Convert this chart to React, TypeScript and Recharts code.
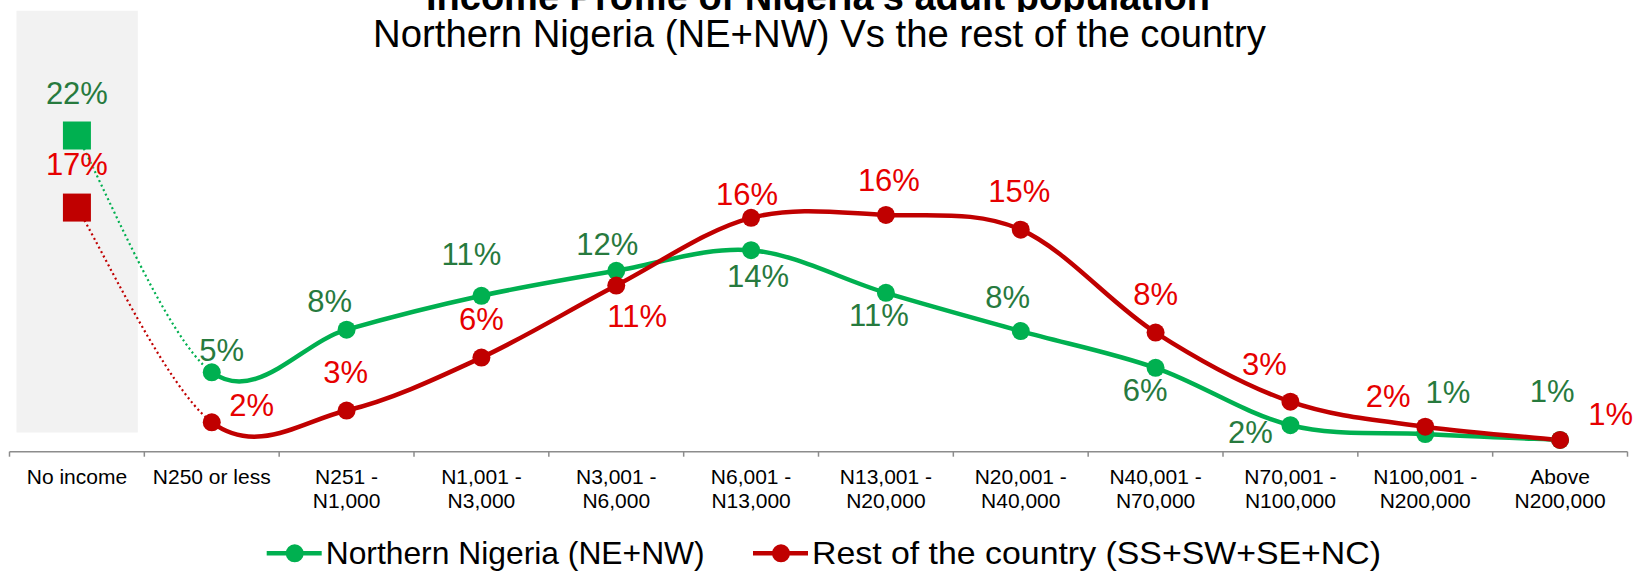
import React from 'react';
import { ComposedChart, Bar, Line, XAxis, YAxis, LabelList } from 'recharts';

// income bands (line break = second line of the tick label)
const categories = [
  'No income',
  'N250 or less',
  'N251 -\nN1,000',
  'N1,001 -\nN3,000',
  'N3,001 -\nN6,000',
  'N6,001 -\nN13,000',
  'N13,001 -\nN20,000',
  'N20,001 -\nN40,000',
  'N40,001 -\nN70,000',
  'N70,001 -\nN100,000',
  'N100,001 -\nN200,000',
  'Above\nN200,000',
];

// % of adults per band
const northern = [21.5, 5.4, 8.3, 10.6, 12.3, 13.7, 10.8, 8.2, 5.7, 1.8, 1.2, 0.8];
const restOfCountry = [16.6, 2.0, 2.8, 6.4, 11.3, 15.9, 16.1, 15.1, 8.1, 3.4, 1.7, 0.8];

// grey backdrop behind the "No income" column
const shadedCategories = ['No income'];
const shadeRange: [number, number] = [1.3, 30];

const data = categories.map((cat, i) => ({
  cat,
  north: northern[i],
  rest: restOfCountry[i],
  shade: shadedCategories.includes(cat) ? shadeRange : null,
}));

const GREEN = '#00B050';
const RED = '#C00000';
const GREEN_TEXT = '#277A3E';
const RED_TEXT = '#E60000';
const AXIS = '#8c8c8c';
const FONT = '"Liberation Sans", Arial, Helvetica, sans-serif';

const W = 1635;
const H = 571;
const margin = { top: 10.5, right: 7.5, bottom: 0, left: 9.5 };
const plotWidth = W - margin.left - margin.right;
const halfBand = plotWidth / categories.length / 2;

// label offsets from each point: [dx to text centre, dy to baseline]
const northLabelOffsets = [
  [0, -31.7], [10, -11], [-17, -17.7], [-10, -30.7], [-9, -16], [7, 36.7],
  [-7, 33.3], [-13, -22.7], [-10.5, 33.4], [-40, 17.3], [22.6, -30.7], [-8, -38.3],
];
const restLabelOffsets = [
  [0, -32.3], [40, -6], [-1, -27.3], [0, -27.7], [21, 41], [-4, -13.3],
  [3, -24], [-1.5, -27.3], [0, -27.3], [-26, -26.7], [-37, -19.4], [50.7, -15],
];

// Excel-ish smoothed line (catmull-rom style beziers).
// 'lead' draws only the first segment, 'rest' draws everything after it,
// both using the neighbours of the full series for the tangents.
const makeCurve = (part: 'lead' | 'rest') => (context: any) => {
  let pts: number[][] = [];
  return {
    areaStart() {},
    areaEnd() {},
    lineStart() {
      pts = [];
    },
    point(x: number, y: number) {
      pts.push([+x, +y]);
    },
    lineEnd() {
      const n = pts.length;
      const from = part === 'lead' ? 0 : 1;
      const to = part === 'lead' ? Math.min(1, n - 1) : n - 1;
      if (n < from + 2) return;
      context.moveTo(pts[from][0], pts[from][1]);
      for (let i = from; i < to; i++) {
        const p0 = pts[Math.max(i - 1, 0)];
        const p1 = pts[i];
        const p2 = pts[i + 1];
        const p3 = pts[Math.min(i + 2, n - 1)];
        context.bezierCurveTo(
          p1[0] + (p2[0] - p0[0]) / 6,
          p1[1] + (p2[1] - p0[1]) / 6,
          p2[0] - (p3[0] - p1[0]) / 6,
          p2[1] - (p3[1] - p1[1]) / 6,
          p2[0],
          p2[1]
        );
      }
    },
  };
};

const leadCurve = makeCurve('lead');
const restCurve = makeCurve('rest');

const renderDot = (color: string, id: string) => (props: any) => {
  const { cx, cy, index } = props;
  if (cx == null || cy == null) return <g key={`${id}-${index}`} />;
  if (index === 0) {
    return <rect key={`${id}-${index}`} x={cx - 14} y={cy - 14} width={28} height={28} fill={color} />;
  }
  return <circle key={`${id}-${index}`} cx={cx} cy={cy} r={9} fill={color} />;
};

const renderLabel = (offsets: number[][], color: string) => (props: any) => {
  const x = props.x ?? props.viewBox?.x;
  const y = props.y ?? props.viewBox?.y;
  const { value, index } = props;
  if (x == null || y == null || value == null) return null;
  const [dx, dy] = offsets[index] || [0, -27];
  return (
    <text x={x + dx} y={y + dy} textAnchor="middle" fill={color} fontSize={31} fontFamily={FONT}>
      {Math.round(value)}%
    </text>
  );
};

const CategoryTick = (props: any) => {
  const { x, y, payload, index } = props;
  const lines = String(payload.value).split('\n');
  return (
    <g>
      <line x1={x - halfBand} x2={x - halfBand} y1={y} y2={y + 5} stroke={AXIS} strokeWidth={1.5} />
      {index === categories.length - 1 && (
        <line x1={x + halfBand} x2={x + halfBand} y1={y} y2={y + 5} stroke={AXIS} strokeWidth={1.5} />
      )}
      <text x={x} y={y + 31.8} textAnchor="middle" fontSize={21} fill="#000" fontFamily={FONT}>
        {lines.map((l, i) => (
          <tspan key={i} x={x} dy={i === 0 ? 0 : 24}>
            {l}
          </tspan>
        ))}
      </text>
    </g>
  );
};

const LegendItem = ({ x, color, text, width }: { x: number; color: string; text: string; width: number }) => (
  <g>
    <line x1={x} x2={x + 55} y1={553.3} y2={553.3} stroke={color} strokeWidth={4.5} />
    <circle cx={x + 28} cy={553.3} r={9} fill={color} />
    <text
      x={x + 59}
      y={564.3}
      fontSize={32}
      fontFamily={FONT}
      fill="#000"
      textLength={width}
      lengthAdjust="spacingAndGlyphs"
    >
      {text}
    </text>
  </g>
);

const App: React.FC = () => {
  return (
    <div style={{ position: 'absolute', left: 0, top: 0, width: W, height: H, background: '#fff' }}>
      <ComposedChart width={W} height={H} data={data} margin={margin}>
        <XAxis
          dataKey="cat"
          interval={0}
          height={119.3}
          tickSize={0}
          tickMargin={0}
          tickLine={false}
          axisLine={{ stroke: AXIS, strokeWidth: 1.5 }}
          tick={<CategoryTick />}
        />
        <YAxis hide domain={[0, 30]} allowDataOverflow />
        <Bar dataKey="shade" fill="#F2F2F2" barSize={137} isAnimationActive={false} legendType="none" />
        <Line
          dataKey="north"
          name="north-lead"
          type={leadCurve as any}
          stroke={GREEN}
          strokeWidth={2.2}
          strokeDasharray="2 3"
          dot={false}
          activeDot={false}
          legendType="none"
          isAnimationActive={false}
        />
        <Line
          dataKey="rest"
          name="rest-lead"
          type={leadCurve as any}
          stroke={RED}
          strokeWidth={2.2}
          strokeDasharray="2 3"
          dot={false}
          activeDot={false}
          legendType="none"
          isAnimationActive={false}
        />
        <Line
          dataKey="north"
          name="Northern Nigeria (NE+NW)"
          type={restCurve as any}
          stroke={GREEN}
          strokeWidth={4.5}
          dot={renderDot(GREEN, 'n')}
          activeDot={false}
          isAnimationActive={false}
        >
          <LabelList dataKey="north" content={renderLabel(northLabelOffsets, GREEN_TEXT)} />
        </Line>
        <Line
          dataKey="rest"
          name="Rest of the country (SS+SW+SE+NC)"
          type={restCurve as any}
          stroke={RED}
          strokeWidth={4.5}
          dot={renderDot(RED, 'r')}
          activeDot={false}
          isAnimationActive={false}
        >
          <LabelList dataKey="rest" content={renderLabel(restLabelOffsets, RED_TEXT)} />
        </Line>
      </ComposedChart>
      <svg
        width={W}
        height={H}
        style={{ position: 'absolute', left: 0, top: 0, pointerEvents: 'none' }}
      >
        <defs>
          <clipPath id="titleClip">
            <rect x={0} y={0} width={W} height={12} />
          </clipPath>
        </defs>
        <text
          x={818}
          y={10}
          textAnchor="middle"
          fontSize={38}
          fontWeight="bold"
          fontFamily={FONT}
          fill="#000"
          clipPath="url(#titleClip)"
        >
          Income Profile of Nigeria’s adult population
        </text>
        <text x={819.5} y={47} textAnchor="middle" fontSize={38.3} fontFamily={FONT} fill="#000">
          Northern Nigeria (NE+NW) Vs the rest of the country
        </text>
        <LegendItem x={266.7} color={GREEN} width={379} text="Northern Nigeria (NE+NW)" />
        <LegendItem x={753} color={RED} width={569} text="Rest of the country (SS+SW+SE+NC)" />
      </svg>
    </div>
  );
};

export default App;
